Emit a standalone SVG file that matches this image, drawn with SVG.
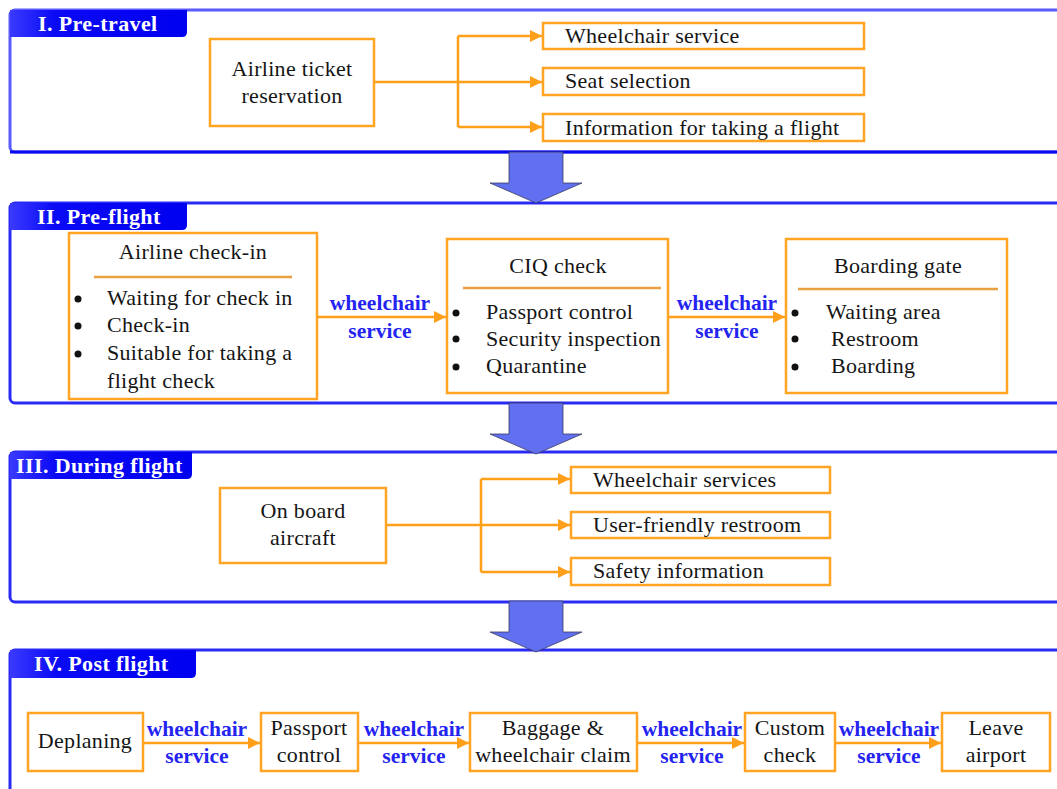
<svg xmlns="http://www.w3.org/2000/svg" width="1057" height="789" viewBox="0 0 1057 789">
<defs>
<linearGradient id="tabg" x1="0" y1="0" x2="1" y2="0">
<stop offset="0" stop-color="#3a3aff"/>
<stop offset="0.25" stop-color="#0a0af5"/>
<stop offset="1" stop-color="#0000f0"/>
</linearGradient>
<marker id="ah" markerUnits="userSpaceOnUse" markerWidth="13" markerHeight="13" refX="12" refY="6" orient="auto">
<path d="M0,0 L12,6 L0,12 z" fill="#ff9f1a"/>
</marker>
<path id="bigarrow" d="M0,0 H54 V31 H73 L27,51 L-19,31 H0 Z"/>
</defs>
<style>
.panel{fill:#fff;stroke:#2a2af5;stroke-width:3}
.tab{fill:url(#tabg)}
.tabt{font-family:"Liberation Serif","Times New Roman",serif;font-weight:bold;font-size:22px;letter-spacing:0.4px;fill:#fff}
.box{fill:#fff;stroke:#ffa424;stroke-width:2.5}
.t{font-family:"Liberation Serif","Times New Roman",serif;font-size:22px;letter-spacing:0.3px;fill:#151515}
.c{text-anchor:middle}
.lbl{font-family:"Liberation Serif","Times New Roman",serif;font-size:21.5px;font-weight:bold;fill:#2424f0;text-anchor:middle}
.sep{stroke:#e8a040;stroke-width:2.5}
.con{fill:none;stroke:#ff9f1a;stroke-width:2.5}
.arr{fill:none;stroke:#ff9f1a;stroke-width:2.5;marker-end:url(#ah)}
.big{fill:#6070f0;stroke:#3a3a60;stroke-width:0.8}
.dot{fill:#111}
</style>

<g id="panel-1">
<rect class="panel" x="10" y="10" width="1070" height="142" rx="5" style="stroke:#5a5aff"/>
<line x1="10" y1="152" x2="1057" y2="152" stroke="#0a0af0" stroke-width="3"/>
<path class="tab" d="M10,10 H187 V32 Q187,37 182,37 H10 Z"/>
<text class="tabt" x="38" y="31">I. Pre-travel</text>
</g>
<g id="panel-2">
<rect class="panel" x="10" y="203" width="1070" height="200" rx="5"/>
<path class="tab" d="M10,203 H187 V225 Q187,230 182,230 H10 Z"/>
<text class="tabt" x="37" y="224">II. Pre-flight</text>
</g>
<g id="panel-3">
<rect class="panel" x="10" y="452" width="1070" height="150" rx="5"/>
<path class="tab" d="M10,452 H192 V474 Q192,479 187,479 H10 Z"/>
<text class="tabt" x="16" y="473">III. During flight</text>
</g>
<g id="panel-4">
<rect class="panel" x="10" y="650" width="1070" height="160" rx="5"/>
<path class="tab" d="M10,650 H196 V673 Q196,678 191,678 H10 Z"/>
<text class="tabt" x="34" y="671">IV. Post flight</text>
</g>

<g id="big-arrows">
<use href="#bigarrow" class="big" x="509" y="152"/>
<use href="#bigarrow" class="big" x="509" y="403"/>
<use href="#bigarrow" class="big" x="509" y="601"/>
</g>

<g id="connectors">
<path class="con" d="M374,82 H458 M458,36 V127"/>
<path class="arr" d="M458,36 H542"/>
<path class="arr" d="M458,82 H542"/>
<path class="arr" d="M458,127 H542"/>
<path class="arr" d="M317,317 H446"/>
<path class="arr" d="M668,317 H785"/>
<path class="con" d="M386,525 H481 M481,479 V572"/>
<path class="arr" d="M481,479 H570"/>
<path class="arr" d="M481,525 H570"/>
<path class="arr" d="M481,572 H570"/>
<path class="arr" d="M143,743 H260"/>
<path class="arr" d="M358,743 H469"/>
<path class="arr" d="M637,743 H744"/>
<path class="arr" d="M835,743 H941"/>
<text class="lbl" x="380" y="310">wheelchair</text>
<text class="lbl" x="380" y="338">service</text>
<text class="lbl" x="727" y="310">wheelchair</text>
<text class="lbl" x="727" y="338">service</text>
<text class="lbl" x="197" y="736">wheelchair</text>
<text class="lbl" x="197" y="763">service</text>
<text class="lbl" x="414" y="736">wheelchair</text>
<text class="lbl" x="414" y="763">service</text>
<text class="lbl" x="692" y="736">wheelchair</text>
<text class="lbl" x="692" y="763">service</text>
<text class="lbl" x="889" y="736">wheelchair</text>
<text class="lbl" x="889" y="763">service</text>
</g>

<g id="airline-ticket-reservation">
<rect class="box" x="210" y="39" width="164" height="87"/>
<text class="t c" x="292" y="76">Airline ticket</text>
<text class="t c" x="292" y="103">reservation</text>
</g>
<g id="wheelchair-service">
<rect class="box" x="543" y="23" width="321" height="26"/>
<text class="t" x="565" y="43">Wheelchair service</text>
</g>
<g id="seat-selection">
<rect class="box" x="543" y="68" width="321" height="27"/>
<text class="t" x="565" y="88">Seat selection</text>
</g>
<g id="information-flight">
<rect class="box" x="543" y="114" width="321" height="27"/>
<text class="t" x="565" y="135">Information for taking a flight</text>
</g>

<g id="airline-check-in">
<rect class="box" x="69" y="233" width="248" height="166"/>
<text class="t c" x="193" y="259">Airline check-in</text>
<line class="sep" x1="94" y1="277" x2="292" y2="277"/>
<circle class="dot" cx="78" cy="299" r="3.5"/>
<circle class="dot" cx="78" cy="326" r="3.5"/>
<circle class="dot" cx="78" cy="354" r="3.5"/>
<text class="t" x="107" y="305">Waiting for check in</text>
<text class="t" x="107" y="332">Check-in</text>
<text class="t" x="107" y="360">Suitable for taking a</text>
<text class="t" x="107" y="388">flight check</text>
</g>
<g id="ciq-check">
<rect class="box" x="447" y="239" width="221" height="154"/>
<text class="t c" x="558" y="273">CIQ check</text>
<line class="sep" x1="463" y1="288" x2="661" y2="288"/>
<circle class="dot" cx="456" cy="313" r="3.5"/>
<circle class="dot" cx="456" cy="339" r="3.5"/>
<circle class="dot" cx="456" cy="367" r="3.5"/>
<text class="t" x="486" y="319">Passport control</text>
<text class="t" x="486" y="346">Security inspection</text>
<text class="t" x="486" y="373">Quarantine</text>
</g>
<g id="boarding-gate">
<rect class="box" x="786" y="239" width="221" height="154"/>
<text class="t c" x="898" y="273">Boarding gate</text>
<line class="sep" x1="798" y1="289" x2="998" y2="289"/>
<circle class="dot" cx="795" cy="313" r="3.5"/>
<circle class="dot" cx="795" cy="339" r="3.5"/>
<circle class="dot" cx="795" cy="367" r="3.5"/>
<text class="t" x="826" y="319">Waiting area</text>
<text class="t" x="831" y="346">Restroom</text>
<text class="t" x="831" y="373">Boarding</text>
</g>

<g id="on-board-aircraft">
<rect class="box" x="220" y="488" width="166" height="75"/>
<text class="t c" x="303" y="518">On board</text>
<text class="t c" x="303" y="545">aircraft</text>
</g>
<g id="wheelchair-services">
<rect class="box" x="571" y="467" width="259" height="26"/>
<text class="t" x="593" y="487">Wheelchair services</text>
</g>
<g id="user-friendly-restroom">
<rect class="box" x="571" y="512" width="259" height="26"/>
<text class="t" x="593" y="532">User-friendly restroom</text>
</g>
<g id="safety-information">
<rect class="box" x="571" y="558" width="259" height="27"/>
<text class="t" x="593" y="578">Safety information</text>
</g>

<g id="deplaning">
<rect class="box" x="28" y="713" width="115" height="58"/>
<text class="t c" x="85" y="748">Deplaning</text>
</g>
<g id="passport-control">
<rect class="box" x="261" y="713" width="97" height="58"/>
<text class="t c" x="309" y="735">Passport</text>
<text class="t c" x="309" y="762">control</text>
</g>
<g id="baggage-claim">
<rect class="box" x="470" y="713" width="167" height="58"/>
<text class="t c" x="553" y="735">Baggage &amp;</text>
<text class="t c" x="553" y="762">wheelchair claim</text>
</g>
<g id="custom-check">
<rect class="box" x="745" y="713" width="90" height="58"/>
<text class="t c" x="790" y="735">Custom</text>
<text class="t c" x="790" y="762">check</text>
</g>
<g id="leave-airport">
<rect class="box" x="942" y="713" width="108" height="58"/>
<text class="t c" x="996" y="735">Leave</text>
<text class="t c" x="996" y="762">airport</text>
</g>
</svg>
